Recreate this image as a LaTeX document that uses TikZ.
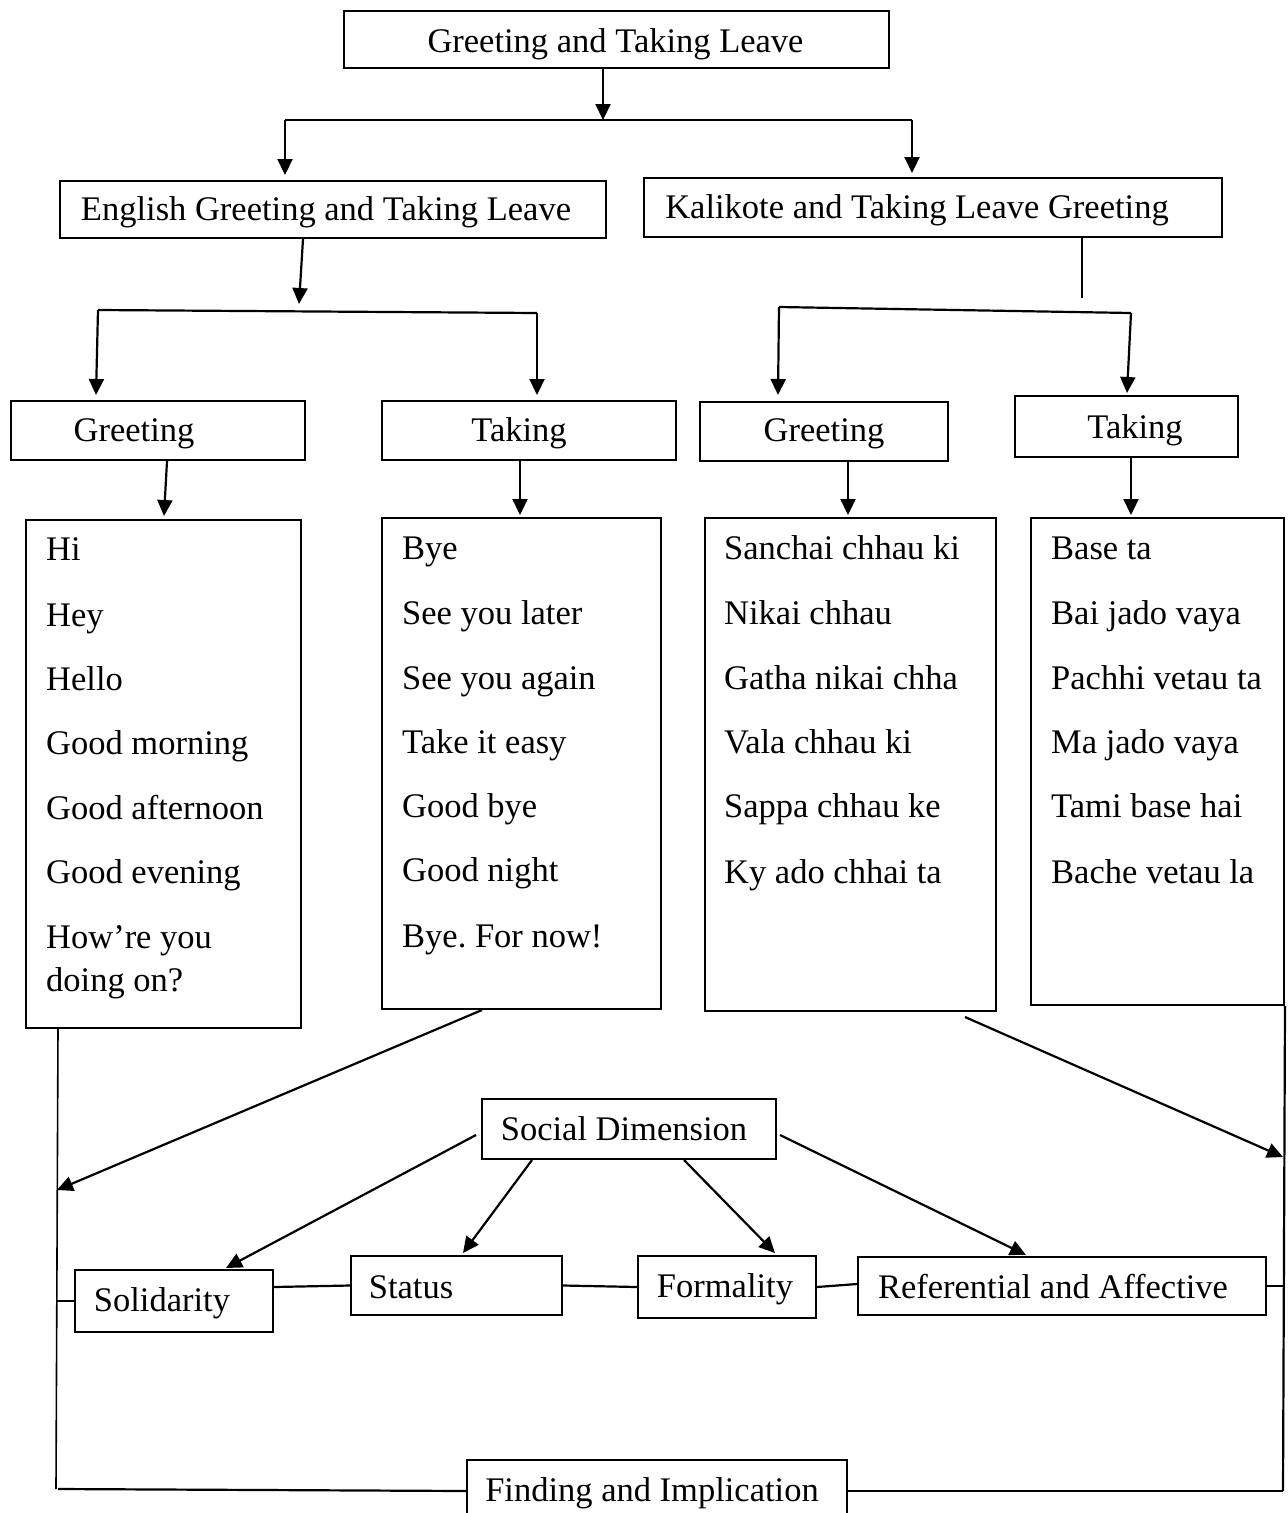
\documentclass[tikz,border=0pt]{standalone}
\usepackage{fontspec}
\setmainfont{Liberation Serif}
\usetikzlibrary{arrows.meta,calc}
\frenchspacing
\begin{document}
\begin{tikzpicture}[x=1pt,y=-1pt,
  box/.style={draw, line width=2pt, inner sep=0pt, anchor=north west},
  txt/.style={inner sep=0pt, anchor=base, font=\fontsize{34.5}{41}\selectfont},
  itm/.style={inner sep=0pt, anchor=base west, font=\fontsize{34.5}{41}\selectfont},
  ln/.style={line width=2.2pt},
  thin/.style={line width=1.6pt},
  arr/.style={line width=2.2pt, -{Triangle[length=16pt,width=15pt]}},
]
\clip (0,0) rectangle (1288,1513);
\fill[white] (0,0) rectangle (1288,1513);
% box macro: name, x1, y1, x2, y2
\newcommand\mybox[5]{\node[box, minimum width={#4-#2}, minimum height={#5-#3}] (#1) at (#2,#3) {};}

\mybox{top}{343}{10}{888}{67}
\node[txt] (topt) at (615.5,52) {Greeting and Taking Leave};
\mybox{eng}{59}{180}{605}{237}
\node[txt] (engt) at (326,220) {English Greeting and Taking Leave};
\mybox{kal}{643}{177}{1221}{236}
\node[txt] (kalt) at (917,218) {Kalikote and Taking Leave Greeting};
\mybox{g1}{10}{400}{304}{459}
\node[txt] (g1t) at (134,441) {Greeting};
\mybox{t1}{381}{400}{675}{459}
\node[txt] (t1t) at (519,441) {Taking};
\mybox{g2}{699}{401}{947}{460}
\node[txt] (g2t) at (824,441) {Greeting};
\mybox{t2}{1014}{395}{1237}{456}
\node[txt] (t2t) at (1135,438) {Taking};

% lists
\mybox{L1}{25}{519}{300}{1027}
\node[itm] (l1a) at (46,560) {Hi};
\node[itm] (l1b) at (46,626) {Hey};
\node[itm] (l1c) at (46,690) {Hello};
\node[itm] (l1d) at (46,754) {Good morning};
\node[itm] (l1e) at (46,819) {Good afternoon};
\node[itm] (l1f) at (46,883) {Good evening};
\node[itm] (l1g) at (46,948) {How’re you};
\node[itm] (l1h) at (46,991) {doing on?};

\mybox{L2}{381}{517}{660}{1008}
\node[itm] (l2a) at (402,559) {Bye};
\node[itm] (l2b) at (402,624) {See you later};
\node[itm] (l2c) at (402,689) {See you again};
\node[itm] (l2d) at (402,753) {Take it easy};
\node[itm] (l2e) at (402,817) {Good bye};
\node[itm] (l2f) at (402,881) {Good night};
\node[itm] (l2g) at (402,947) {Bye. For now!};

\mybox{L3}{704}{517}{995}{1010}
\node[itm] (l3a) at (724,559) {Sanchai chhau ki};
\node[itm] (l3b) at (724,624) {Nikai chhau};
\node[itm] (l3c) at (724,689) {Gatha nikai chha};
\node[itm] (l3d) at (724,753) {Vala chhau ki};
\node[itm] (l3e) at (724,817) {Sappa chhau ke};
\node[itm] (l3f) at (724,883) {Ky ado chhai ta};

\mybox{L4}{1030}{517}{1283}{1004}
\node[itm] (l4a) at (1051,559) {Base ta};
\node[itm] (l4b) at (1051,624) {Bai jado vaya};
\node[itm] (l4c) at (1051,689) {Pachhi vetau ta};
\node[itm] (l4d) at (1051,753) {Ma jado vaya};
\node[itm] (l4e) at (1051,817) {Tami base hai};
\node[itm] (l4f) at (1051,883) {Bache vetau la};

% lower part
\mybox{soc}{481}{1098}{775}{1158}
\node[txt] (soct) at (624,1140) {Social Dimension};
\mybox{sol}{74}{1269}{272}{1331}
\node[txt] (solt) at (162,1311) {Solidarity};
\mybox{sta}{350}{1255}{561}{1314}
\node[txt] (stat) at (411,1298) {Status};
\mybox{form}{637}{1255}{815}{1317}
\node[txt] (formt) at (725,1297) {Formality};
\mybox{ref}{857}{1256}{1265}{1314}
\node[txt] (reft) at (1053,1298) {Referential and Affective};
\mybox{fin}{466}{1459}{846}{1521}
\node[txt] (fint) at (652,1501) {Finding and Implication};

% connectors top
\coordinate (j1) at (603,120);
\coordinate (jL) at (285,120);
\coordinate (jR) at (912,120);
\draw[arr] (top.south -| j1) -- (j1);
\draw[ln] (jL) -- (jR);
\draw[arr] (jL) -- ([yshift=5pt]jL |- eng.north);
\draw[arr] (jR) -- ([yshift=4pt]jR |- kal.north);

\coordinate (e1) at (299,304);
\coordinate (eL) at (98,310);
\coordinate (eR) at (537,313);
\draw[arr] ([xshift=244pt]eng.south west) -- (e1);
\draw[ln] (eL) -- (eR);
\draw[arr] (eL) -- ([xshift=86pt,yshift=5pt]g1.north west);
\draw[arr] (eR) -- ([yshift=5pt]eR |- t1.north);

\coordinate (k1) at (1082,298);
\coordinate (kL) at (779,307);
\coordinate (kR) at (1131,313);
\draw[thin] ([xshift=439pt]kal.south west) -- (k1);
\draw[ln] (kL) -- (kR);
\draw[arr] (kL) -- ([xshift=79pt,yshift=6pt]g2.north west);
\draw[arr] (kR) -- ([xshift=113pt,yshift=2pt]t2.north west);

\draw[arr] ([xshift=157pt]g1.south west) -- ([xshift=139pt,yshift=3pt]L1.north west);
\draw[arr] ([xshift=139pt]t1.south west) -- ([xshift=139pt,yshift=2pt]L2.north west);
\draw[arr] ([xshift=149pt]g2.south west) -- ([xshift=144pt,yshift=2pt]L3.north west);
\draw[arr] ([xshift=117pt]t2.south west) -- ([xshift=101pt,yshift=2pt]L4.north west);

% side frame
\coordinate (bl) at (56,1489);
\coordinate (br) at (1283,1491);
\coordinate (al) at (57,1190);
\coordinate (ar) at (1283,1157);
\draw[thin] ([xshift=33pt]L1.south west) -- (bl);
\draw[ln] ([xshift=2pt]bl) -- (fin.west);
\draw[ln] (fin.east) -- (br);
\draw[ln] (L4.south east) -- (br);
\draw[arr] ([xshift=101pt]L2.south west) -- (al);
\draw[arr] ([xshift=261pt,yshift=-5pt]L3.south west) -- (ar);

% social dimension arrows
\draw[arr] ([xshift=-5pt,yshift=-37pt]soc.north west) -- ([xshift=152pt,yshift=1pt]sol.north west);
\draw[arr] ([xshift=51pt]soc.south west) -- ([xshift=113pt,yshift=2pt]sta.north west);
\draw[arr] ([xshift=203pt]soc.south west) -- ([xshift=138pt,yshift=2pt]form.north west);
\draw[arr] ([xshift=3pt,yshift=-37pt]soc.north east) -- ([xshift=169pt,yshift=1pt]ref.north west);

% horizontal links
\draw[thin] (sol.west -| bl) -- (sol.west);
\draw[ln] ([yshift=14pt]sol.east) -- (sta.west);
\draw[ln] (sta.east) -- (form.west);
\draw[ln] (form.east) -- ([yshift=2pt]ref.west);
\draw[thin] (ref.east) -- (ref.east -| br);
\end{tikzpicture}
\end{document}
